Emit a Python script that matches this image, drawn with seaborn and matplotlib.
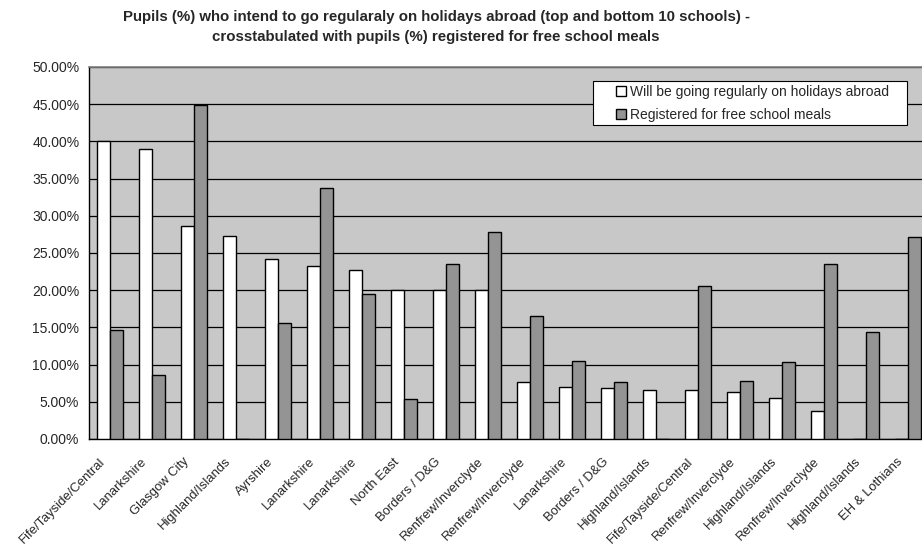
import numpy as np
import pandas as pd
import matplotlib
matplotlib.use("Agg")
import matplotlib.pyplot as plt
import matplotlib.ticker as mticker
import matplotlib.transforms as mtransforms
from matplotlib.patches import Rectangle
import seaborn as sns

REGIONS = ["Fife/Tayside/Central", "Lanarkshire", "Glasgow City", "Highland/Islands",
           "Ayrshire", "Lanarkshire", "Lanarkshire", "North East", "Borders / D&G",
           "Renfrew/Inverclyde", "Renfrew/Inverclyde", "Lanarkshire", "Borders / D&G",
           "Highland/Islands", "Fife/Tayside/Central", "Renfrew/Inverclyde",
           "Highland/Islands", "Renfrew/Inverclyde", "Highland/Islands", "EH & Lothians"]
HOLIDAYS = [40.0, 39.0, 28.6, 27.3, 24.2, 23.3, 22.7, 20.0, 20.0, 20.0,
            7.7, 7.0, 6.85, 6.6, 6.6, 6.3, 5.55, 3.7, 0.0, 0.0]
MEALS = [14.6, 8.6, 44.9, 0.0, 15.6, 33.7, 19.5, 5.4, 23.5, 27.8,
         16.5, 10.5, 7.6, 0.0, 20.5, 7.75, 10.4, 23.5, 14.4, 27.1]
SERIES = ["Will be going regularly on holidays abroad", "Registered for free school meals"]
TITLE_LINES = ["Pupils (%) who intend to go regularaly on holidays abroad (top and bottom 10 schools) -",
               "crosstabulated with pupils (%) registered for free school meals"]

WHITE = "#FFFFFF"
GREY = "#949494"
PLOT_BG = "#C8C8C8"

sns.set_style("white")
plt.rcParams["font.family"] = ["Liberation Sans", "DejaVu Sans"]

idx = list(range(len(REGIONS)))
df = pd.DataFrame({
    "school": idx * 2,
    "value": HOLIDAYS + MEALS,
    "series": [SERIES[0]] * len(idx) + [SERIES[1]] * len(idx),
})

fig = plt.figure(figsize=(9.22, 5.45), dpi=100)
ax = fig.add_axes([89 / 922, 106 / 545, 840 / 922, 372 / 545])
ax.set_facecolor(PLOT_BG)

sns.barplot(data=df, x="school", y="value", hue="series", order=idx,
            palette=[WHITE, GREY], width=0.6, gap=0, edgecolor="black",
            linewidth=1.0, ax=ax, zorder=3)

ax.set_ylim(0, 50)
ax.set_xlim(-0.5, len(idx) - 0.5)
ax.yaxis.set_major_locator(mticker.MultipleLocator(5))
ax.yaxis.set_major_formatter(mticker.FuncFormatter(lambda v, p: f"{v:.2f}%"))
ax.grid(axis="y", color="black", linewidth=0.9, zorder=0)
ax.set_axisbelow(True)

ax.set_xticks(idx)
ax.set_xticklabels(REGIONS, rotation=45, ha="right", rotation_mode="anchor", fontsize=9.4)
ax.set_xticks(np.arange(-0.5, len(idx), 1), minor=True)
ax.tick_params(axis="x", which="major", length=0, pad=12)
ax.tick_params(axis="x", which="minor", length=4, width=1, color="black", direction="out")
ax.tick_params(axis="y", length=4, width=1, color="black", direction="out", labelsize=10, pad=3)
ax.set_xlabel("")
ax.set_ylabel("")

# nudge the slanted labels a little left of the category centre
shift = mtransforms.ScaledTranslation(-11 / 100, 0, fig.dpi_scale_trans)
for lbl in ax.get_xticklabels():
    lbl.set_transform(lbl.get_transform() + shift)

for side in ["top", "right"]:
    ax.spines[side].set_color("#808080")
    ax.spines[side].set_linewidth(1.2)
for side in ["left", "bottom"]:
    ax.spines[side].set_color("black")
    ax.spines[side].set_linewidth(1.0)

# legend box drawn wider than matplotlib's frame, like the original
ax.add_patch(Rectangle((593 / 922, 1 - 125 / 545), 314 / 922, 44 / 545,
                       transform=fig.transFigure, facecolor="white",
                       edgecolor="black", linewidth=0.8, zorder=4, clip_on=False))
leg = ax.legend(loc="upper left", bbox_to_anchor=(616 / 922, 1 - 85 / 545),
                bbox_transform=fig.transFigure, fontsize=10, frameon=False,
                handlelength=0.7, handleheight=0.7, handletextpad=0.3,
                borderpad=0, labelspacing=0.65, borderaxespad=0)
leg.set_zorder(5)

for line, ypix in zip(TITLE_LINES, [17, 37]):
    fig.text(436 / 922, 1 - ypix / 545, line, ha="center", va="center",
             fontsize=10.8, fontweight="bold")

fig.savefig("out.png", dpi=100)
